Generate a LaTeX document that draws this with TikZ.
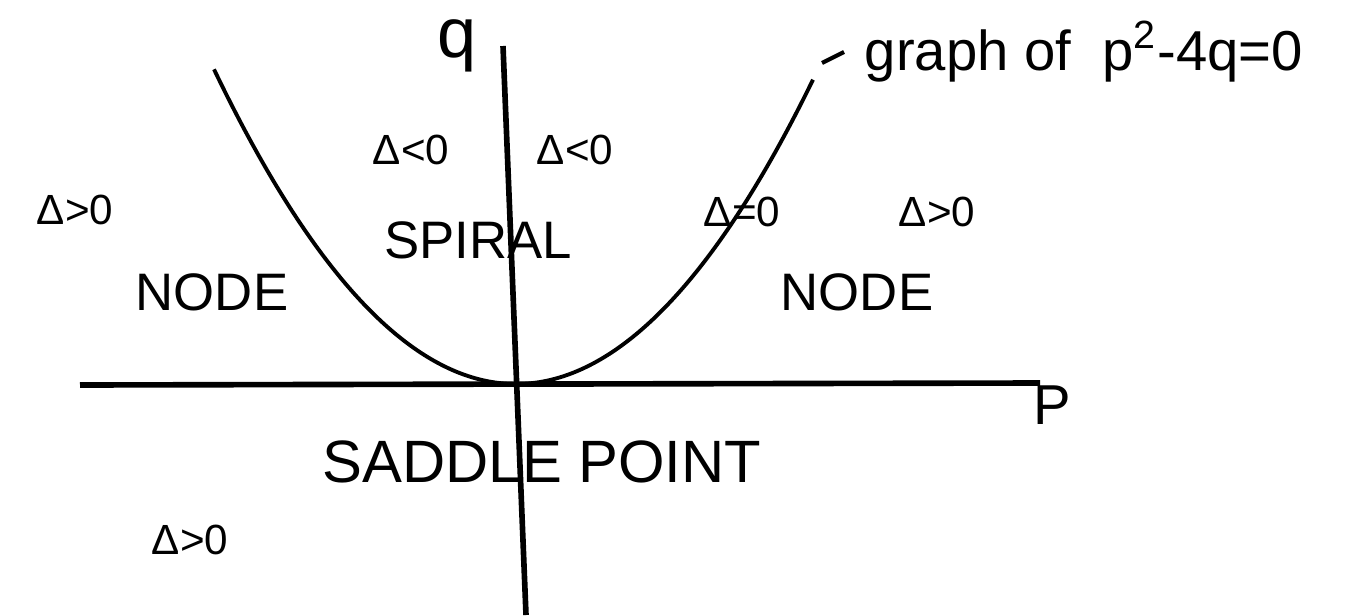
\documentclass[tikz,border=0pt]{standalone}
\usepackage{fontspec}
\setmainfont{Liberation Sans}
\begin{document}
\begin{tikzpicture}[
    x=0.01cm, y=-0.01cm,
    axis/.style={line width=1.6pt},
    curve/.style={line width=1.1pt},
    lbl/.style={inner sep=0pt, font=\fontsize{12}{14}\selectfont},
    note/.style={inner sep=0pt, font=\fontsize{16}{18}\selectfont},
    region/.style={inner sep=0pt, font=\fontsize{15}{18}\selectfont},
    big/.style={inner sep=0pt, font=\fontsize{17}{20}\selectfont}
]
    \useasboundingbox (0,0) rectangle (1361,615);

    % Axes
    \draw[axis] (80,385) -- (1040,383);
    \draw[axis] (503,46) -- (526,615);
    \node[note, font=\fontsize{20}{22}\selectfont] (qlabel) at (457,46) {q};
    \node[note] (plabel) at (1052,405) {P};

    % Parabola p^2-4q=0
    \draw[curve] plot[domain=-3.02:2.97, samples=80, smooth] ({516+100*\x}, {384-34.5*\x*\x});
    \coordinate (tip) at (822,63);
    \node[note, anchor=west] (graphlabel) at (864,52) {graph of \ p\textsuperscript{2}-4q=0};
    \draw[line width=1.2pt] (tip) -- ([xshift=-0.2cm]graphlabel.west);

    % Regions
    \node[lbl] (dnegl) at (411,150) {Δ<0};
    \node[lbl] (dnegr) at (575,150) {Δ<0};
    \node[lbl] (dposl) at (75,210) {Δ>0};
    \node[lbl] (dzero) at (742,212) {Δ=0};
    \node[lbl] (dposr) at (937,212) {Δ>0};
    \node[lbl] (dposb) at (190,540) {Δ>0};
    \node[region] (spiral) at (478,240) {SPIRAL};
    \node[region] (nodel) at (212,292) {NODE};
    \node[region] (noder) at (857,292) {NODE};
    \node[big] (saddle) at (542,462) {SADDLE POINT};
\end{tikzpicture}
\end{document}
